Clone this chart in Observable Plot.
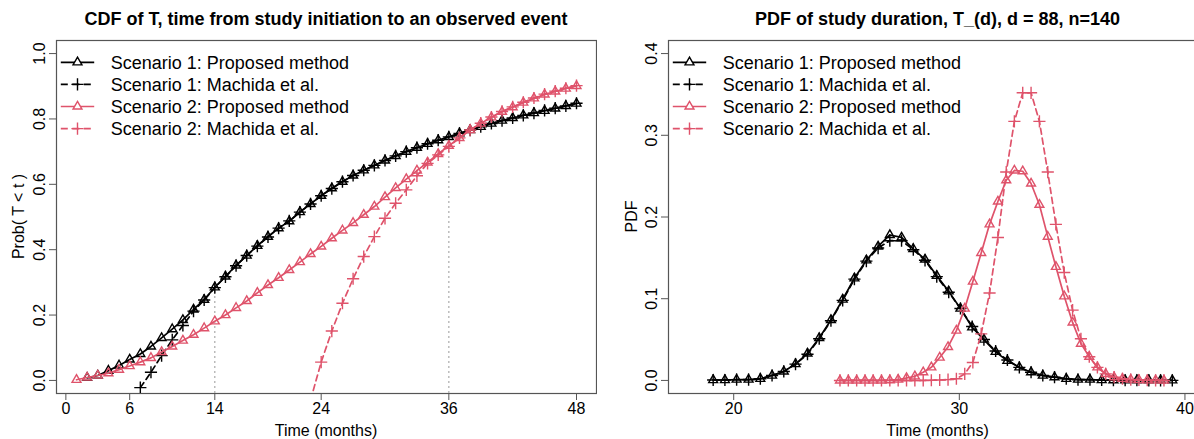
<!DOCTYPE html>
<html><head><meta charset="utf-8">
<script src="https://cdn.jsdelivr.net/npm/d3@7"></script>
<script src="https://cdn.jsdelivr.net/npm/@observablehq/plot@0.6"></script>
<style>
html,body{margin:0;padding:0;background:#fff;}
#wrap{position:relative;width:1194px;height:439px;overflow:hidden;background:#fff;}
#left{position:absolute;left:0;top:0;width:597px;height:439px;}
#right{position:absolute;left:597px;top:0;width:610px;height:439px;}
#wrap svg{max-width:none !important;display:block;}
svg text{font-family:"Liberation Sans",Arial,sans-serif;}
</style></head><body>
<div id="wrap"><div id="left"></div><div id="right"></div></div>
<script>
const FONT = '"Liberation Sans", Arial, sans-serif';
const BLACK = "#000000";
const RED = "#DF536B";

// ---------- Left panel: CDF of T ----------
const cdfTimesS1P = [2,3,4,5,6,7,8,9,10,11,12,13,14,15,16,17,18,19,20,21,22,23,24,25,26,27,28,29,30,31,32,33,34,35,36,37,38,39,40,41,42,43,44,45,46,47,48];
const cdfS1P = [0.008,0.015,0.030,0.046,0.064,0.081,0.104,0.130,0.157,0.185,0.217,0.247,0.285,0.318,0.352,0.382,0.412,0.440,0.466,0.487,0.515,0.540,0.565,0.588,0.608,0.627,0.643,0.658,0.673,0.687,0.700,0.712,0.724,0.735,0.745,0.756,0.766,0.776,0.786,0.795,0.803,0.811,0.818,0.825,0.832,0.840,0.847];
const cdfTimesS1M = [7,8,9,10,11,12,13,14,15,16,17,18,19,20,21,22,23,24,25,26,27,28,29,30,31,32,33,34,35,36,37,38,39,40,41,42,43,44,45,46,47,48];
const cdfS1M = [-0.022,0.025,0.076,0.124,0.168,0.212,0.246,0.284,0.317,0.351,0.382,0.411,0.439,0.466,0.488,0.515,0.540,0.565,0.587,0.608,0.627,0.643,0.658,0.673,0.687,0.700,0.712,0.724,0.735,0.745,0.756,0.766,0.776,0.786,0.795,0.803,0.811,0.818,0.826,0.833,0.840,0.848];
const cdfTimesS2P = [1,2,3,4,5,6,7,8,9,10,11,12,13,14,15,16,17,18,19,20,21,22,23,24,25,26,27,28,29,30,31,32,33,34,35,36,37,38,39,40,41,42,43,44,45,46,47,48];
const cdfS2P = [0.002,0.009,0.015,0.022,0.033,0.044,0.056,0.069,0.087,0.104,0.122,0.140,0.160,0.181,0.200,0.222,0.243,0.268,0.292,0.314,0.338,0.362,0.387,0.410,0.435,0.459,0.482,0.507,0.532,0.561,0.589,0.616,0.642,0.667,0.693,0.718,0.742,0.766,0.786,0.805,0.822,0.836,0.850,0.863,0.875,0.884,0.893,0.901];
const cdfTimesS2M = [23,24,25,26,27,28,29,30,31,32,33,34,35,36,37,38,39,40,41,42,43,44,45,46,47,48];
const cdfS2M = [-0.060,0.056,0.151,0.236,0.311,0.379,0.440,0.496,0.542,0.583,0.626,0.664,0.690,0.716,0.742,0.766,0.787,0.806,0.823,0.837,0.851,0.864,0.876,0.885,0.894,0.902];
const refTimes = [14, 36];
const refValues = [0.285, 0.718];
const cdfXTicks = [0, 6, 14, 24, 36, 48];
const cdfYTicks = [0, 0.2, 0.4, 0.6, 0.8, 1.0];

// ---------- Right panel: PDF of study duration ----------
const pdfTimesS1 = [19.09,19.61,20.13,20.66,21.18,21.70,22.22,22.74,23.27,23.79,24.31,24.83,25.35,25.88,26.40,26.92,27.44,27.96,28.48,29.00,29.53,30.05,30.57,31.09,31.61,32.13,32.66,33.18,33.70,34.22,34.74,35.26,35.79,36.31,36.83,37.35,37.87,38.40,38.92,39.44];
const pdfS1P = [0.0005,0.0005,0.001,0.001,0.002,0.006,0.011,0.020,0.033,0.052,0.074,0.099,0.125,0.147,0.164,0.178,0.175,0.161,0.148,0.128,0.109,0.088,0.065,0.050,0.035,0.024,0.016,0.010,0.006,0.004,0.002,0.001,0.001,0.0005,0.0003,0.0002,0.0002,0.0001,0.0001,0.0001];
const pdfS1M = [0.0005,0.0005,0.001,0.001,0.002,0.006,0.011,0.020,0.032,0.051,0.073,0.098,0.124,0.146,0.162,0.171,0.171,0.160,0.147,0.127,0.108,0.088,0.066,0.050,0.036,0.025,0.016,0.010,0.006,0.004,0.002,0.001,0.001,0.0005,0.0003,0.0002,0.0002,0.0001,0.0001,0.0001];
const pdfTimesS2 = [24.71,25.08,25.45,25.82,26.18,26.55,26.92,27.29,27.66,28.03,28.40,28.76,29.13,29.50,29.87,30.24,30.60,30.97,31.34,31.71,32.08,32.44,32.81,33.18,33.55,33.92,34.28,34.65,35.02,35.39,35.76,36.12,36.49,36.86,37.23,37.60,37.96,38.33,38.70,39.07];
const pdfS2P = [0,0,0,0,0,0,0.0003,0.001,0.003,0.005,0.010,0.016,0.028,0.041,0.061,0.088,0.121,0.156,0.191,0.219,0.245,0.257,0.256,0.241,0.215,0.176,0.139,0.103,0.071,0.045,0.029,0.016,0.008,0.004,0.002,0.001,0.0005,0.0002,0.0001,0];
const pdfS2M = [0,0,0,0,0,0,0,0,0,0,0,0.0002,0.0005,0.001,0.002,0.008,0.022,0.057,0.107,0.175,0.255,0.317,0.352,0.352,0.317,0.255,0.191,0.132,0.086,0.051,0.029,0.016,0.008,0.004,0.002,0.001,0.0005,0.0002,0.0001,0];
const pdfXTicks = [20, 30, 40];
const pdfYTicks = [0, 0.1, 0.2, 0.3, 0.4];

const legendLabels = ["Scenario 1: Proposed method", "Scenario 1: Machida et al.", "Scenario 2: Proposed method", "Scenario 2: Machida et al."];
const legendColors = [BLACK, BLACK, RED, RED];
const legendSymbols = ["triangle", "plus", "triangle", "plus"];
const legendDashed = [false, true, false, true];

const zip = (xs, ys) => xs.map((t, i) => ({t, v: ys[i]}));
const DASH = "6,4";
const LW = 1.7;
const MW = 1.4;
const R_TRI = 3.3;
const R_PLUS = 4.0;

function seriesMarks(data, color, symbol, dashed) {
  return [
    Plot.line(data, {x: "t", y: "v", stroke: color, strokeWidth: LW, strokeDasharray: dashed ? DASH : null, clip: true}),
    Plot.dot(data, {x: "t", y: "v", symbol: symbol, r: symbol === "triangle" ? R_TRI : R_PLUS, stroke: color, strokeWidth: MW, fill: "none", clip: true})
  ];
}

function makePanel({width, marginLeft, marginRight, xDomain, yDomain, xTicks, yTicks, series, extra}) {
  return Plot.plot({
    width, height: 439,
    marginLeft, marginRight, marginTop: 40, marginBottom: 46,
    style: {fontFamily: FONT, fontSize: "16px", background: "white", color: "#000", overflow: "visible", maxWidth: "none"},
    x: {domain: xDomain},
    y: {domain: yDomain},
    marks: [
      Plot.frame({stroke: "#555", strokeWidth: 1.2}),
      Plot.axisX({ticks: xTicks, tickSize: 7, tickPadding: 2, tickFormat: d => String(d), label: null, stroke: "#555", fill: "#000", fontSize: 16}),
      Plot.axisY({ticks: yTicks, tickSize: 7, tickPadding: 5, tickRotate: -90, tickFormat: d => d.toFixed(1), label: null, stroke: "#555", fill: "#000", fontSize: 16}),
      ...(extra || []),
      ...series.flatMap(s => seriesMarks(s.data, s.color, s.symbol, s.dashed))
    ]
  });
}

function annotate(svg, {plotLeft, plotRight, title, ylab, ylabX}) {
  const g = d3.select(svg).append("g").attr("font-family", FONT).attr("fill", "#000");
  const cx = (plotLeft + plotRight) / 2;
  g.append("text").attr("x", cx).attr("y", 25).attr("text-anchor", "middle")
    .attr("font-weight", "bold").attr("font-size", 18).text(title);
  g.append("text").attr("x", cx).attr("y", 430).attr("dy", "0.35em").attr("text-anchor", "middle")
    .attr("font-size", 16).text("Time (months)");
  g.append("text").attr("transform", `translate(${ylabX},216.5) rotate(-90)`).attr("dy", "0.35em")
    .attr("text-anchor", "middle").attr("font-size", 16).text(ylab);
  // legend
  const lg = g.append("g").attr("text-anchor", "start");
  legendLabels.forEach((lab, i) => {
    const y = 62.3 + i * 22.1;
    lg.append("line").attr("x1", plotLeft + 4.8).attr("x2", plotLeft + 38.2).attr("y1", y).attr("y2", y)
      .attr("stroke", legendColors[i]).attr("stroke-width", LW)
      .attr("stroke-dasharray", legendDashed[i] ? "7,4.5" : null);
    const sym = legendSymbols[i] === "triangle" ? d3.symbolTriangle : d3.symbolPlus;
    const r = legendSymbols[i] === "triangle" ? R_TRI : R_PLUS;
    lg.append("path").attr("d", d3.symbol(sym, Math.PI * r * r)())
      .attr("transform", `translate(${plotLeft + 21.5},${y})`)
      .attr("fill", legendSymbols[i] === "triangle" ? "white" : "none").attr("stroke", legendColors[i]).attr("stroke-width", MW);
    lg.append("text").attr("x", plotLeft + 54.8).attr("y", y).attr("dy", "0.35em")
      .attr("text-anchor", "start").attr("font-size", 18).text(lab);
  });
}

// Left panel
const leftY = [-0.04, 1.04];
const left = makePanel({
  width: 597, marginLeft: 56, marginRight: 1,
  xDomain: [-0.88, 49.88], yDomain: leftY,
  xTicks: cdfXTicks, yTicks: cdfYTicks,
  extra: [Plot.ruleX(zip(refTimes, refValues), {x: "t", y1: leftY[0], y2: "v", stroke: "#aaaaaa", strokeWidth: 1.2, strokeDasharray: "2,3"})],
  series: [
    {data: zip(cdfTimesS1P, cdfS1P), color: BLACK, symbol: "triangle", dashed: false},
    {data: zip(cdfTimesS1M, cdfS1M), color: BLACK, symbol: "plus", dashed: true},
    {data: zip(cdfTimesS2P, cdfS2P), color: RED, symbol: "triangle", dashed: false},
    {data: zip(cdfTimesS2M, cdfS2M), color: RED, symbol: "plus", dashed: true}
  ]
});
document.getElementById("left").appendChild(left);
annotate(left, {plotLeft: 56, plotRight: 596, title: "CDF of T, time from study initiation to an observed event", ylab: "Prob( T < t )", ylabX: 18.3});

// Right panel
const right = makePanel({
  width: 610, marginLeft: 71, marginRight: 0,
  xDomain: [17.11, 41.0], yDomain: [-0.016, 0.416],
  xTicks: pdfXTicks, yTicks: pdfYTicks,
  series: [
    {data: zip(pdfTimesS1, pdfS1P), color: BLACK, symbol: "triangle", dashed: false},
    {data: zip(pdfTimesS1, pdfS1M), color: BLACK, symbol: "plus", dashed: true},
    {data: zip(pdfTimesS2, pdfS2P), color: RED, symbol: "triangle", dashed: false},
    {data: zip(pdfTimesS2, pdfS2M), color: RED, symbol: "plus", dashed: true}
  ]
});
document.getElementById("right").appendChild(right);
annotate(right, {plotLeft: 71, plotRight: 610, title: "PDF of study duration, T_(d), d = 88, n=140", ylab: "PDF", ylabX: 34.7});
</script>
</body></html>
